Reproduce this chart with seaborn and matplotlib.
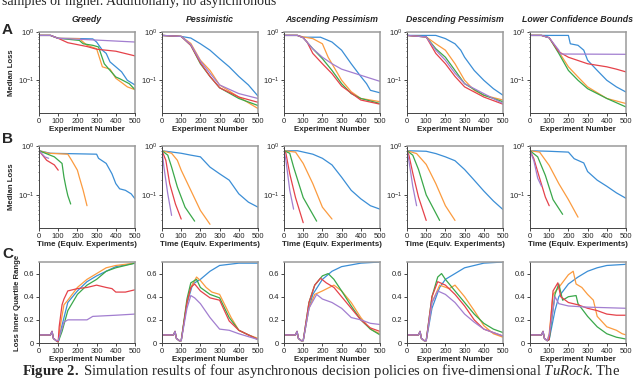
import numpy as np
import pandas as pd
import matplotlib
matplotlib.use("Agg")
import matplotlib.pyplot as plt
import seaborn as sns

# %%
# policies (columns) and series colours
policies = ["Greedy", "Pessimistic", "Ascending Pessimism",
            "Descending Pessimism", "Lower Confidence Bounds"]
series_names = ["blue", "orange", "green", "red", "purple"]
series_colors = ["#3b8ed6", "#fb9b3f", "#3aa84a", "#e5424a", "#a27ed0"]

# row A: median loss vs experiment number  -> [x, y]
a1_blue = [[0, 60, 100, 210, 280, 300, 330, 350, 370, 400, 430, 460, 500],
           [0.85, 0.85, 0.74, 0.73, 0.72, 0.62, 0.42, 0.36, 0.24, 0.19, 0.15, 0.10, 0.08]]
a1_orange = [[0, 60, 100, 210, 250, 300, 330, 370, 400, 430, 460, 500],
             [0.85, 0.85, 0.74, 0.73, 0.53, 0.45, 0.19, 0.17, 0.11, 0.09, 0.073, 0.064]]
a1_green = [[0, 60, 100, 210, 230, 280, 310, 340, 370, 400, 420, 470, 500],
            [0.85, 0.85, 0.74, 0.67, 0.57, 0.53, 0.49, 0.22, 0.16, 0.117, 0.108, 0.085, 0.064]]
a1_red = [[0, 60, 100, 150, 250, 300, 400, 500],
          [0.85, 0.85, 0.74, 0.60, 0.50, 0.44, 0.40, 0.32]]
a1_purple = [[0, 60, 100, 300, 500], [0.85, 0.85, 0.74, 0.68, 0.62]]

a2_blue = [[0, 100, 150, 200, 250, 300, 350, 400, 450, 500],
           [0.85, 0.81, 0.75, 0.57, 0.42, 0.28, 0.19, 0.12, 0.08, 0.047]]
a2_orange = [[0, 100, 150, 200, 250, 300, 400, 500],
             [0.85, 0.81, 0.58, 0.26, 0.16, 0.08, 0.045, 0.026]]
a2_green = [[0, 100, 150, 200, 250, 300, 400, 500],
            [0.85, 0.81, 0.53, 0.22, 0.12, 0.07, 0.042, 0.030]]
a2_red = [[0, 100, 150, 200, 250, 300, 400, 500],
          [0.85, 0.81, 0.53, 0.23, 0.12, 0.07, 0.045, 0.035]]
a2_purple = [[0, 100, 150, 200, 250, 300, 400, 500],
             [0.85, 0.81, 0.55, 0.25, 0.14, 0.08, 0.053, 0.042]]

a3_blue = [[0, 70, 100, 190, 250, 300, 350, 400, 430, 450, 500],
           [0.85, 0.85, 0.78, 0.78, 0.62, 0.42, 0.22, 0.12, 0.085, 0.062, 0.055]]
a3_orange = [[0, 70, 100, 150, 200, 230, 250, 300, 350, 400, 450, 500],
             [0.85, 0.85, 0.79, 0.73, 0.57, 0.30, 0.22, 0.10, 0.058, 0.042, 0.039, 0.036]]
a3_green = [[0, 70, 100, 150, 200, 250, 300, 350, 400, 500],
            [0.85, 0.85, 0.76, 0.45, 0.28, 0.16, 0.085, 0.053, 0.042, 0.033]]
a3_red = [[0, 70, 100, 120, 150, 200, 250, 300, 400, 500],
          [0.85, 0.85, 0.76, 0.62, 0.36, 0.22, 0.137, 0.076, 0.039, 0.032]]
a3_purple = [[0, 70, 100, 150, 200, 250, 300, 400, 500],
             [0.85, 0.85, 0.76, 0.45, 0.30, 0.22, 0.17, 0.127, 0.095]]

a4_blue = [[0, 150, 200, 250, 280, 300, 350, 400, 450, 500],
           [0.85, 0.85, 0.73, 0.57, 0.42, 0.30, 0.16, 0.10, 0.067, 0.049]]
a4_orange = [[0, 100, 150, 200, 250, 300, 350, 400, 500],
             [0.85, 0.79, 0.57, 0.42, 0.22, 0.10, 0.062, 0.049, 0.039]]
a4_green = [[0, 100, 150, 200, 250, 300, 400, 500],
            [0.85, 0.79, 0.45, 0.30, 0.16, 0.085, 0.049, 0.036]]
a4_red = [[0, 100, 150, 200, 250, 300, 400, 500],
          [0.85, 0.79, 0.36, 0.22, 0.12, 0.073, 0.045, 0.032]]
a4_purple = [[0, 100, 150, 200, 250, 300, 400, 500],
             [0.85, 0.79, 0.42, 0.26, 0.14, 0.085, 0.053, 0.033]]

a5_blue = [[0, 200, 210, 250, 280, 300, 350, 400, 450, 500],
           [0.85, 0.85, 0.57, 0.53, 0.42, 0.26, 0.16, 0.10, 0.073, 0.057]]
a5_orange = [[0, 60, 100, 150, 200, 250, 300, 400, 500],
             [0.85, 0.85, 0.76, 0.39, 0.19, 0.117, 0.073, 0.042, 0.033]]
a5_green = [[0, 60, 100, 150, 200, 250, 300, 400, 500],
            [0.85, 0.85, 0.76, 0.36, 0.16, 0.10, 0.067, 0.042, 0.028]]
a5_red = [[0, 60, 100, 150, 200, 300, 400, 450, 500],
          [0.85, 0.85, 0.76, 0.39, 0.30, 0.22, 0.19, 0.17, 0.149]]
a5_purple = [[0, 60, 100, 150, 160, 500], [0.85, 0.85, 0.76, 0.42, 0.35, 0.345]]

# row B: median loss vs wall time
b1_blue = [[0, 60, 300, 310, 350, 380, 400, 420, 450, 480, 500],
           [0.80, 0.71, 0.68, 0.56, 0.44, 0.27, 0.17, 0.133, 0.124, 0.105, 0.083]]
b1_orange = [[0, 50, 150, 170, 200, 210, 230, 250],
             [0.80, 0.71, 0.68, 0.51, 0.32, 0.23, 0.124, 0.06]]
b1_green = [[0, 80, 120, 130, 140, 150, 165], [0.80, 0.60, 0.44, 0.23, 0.145, 0.097, 0.065]]
b1_red = [[0, 40, 80, 100], [0.80, 0.51, 0.41, 0.32]]
b1_purple = [[0, 30, 50], [0.80, 0.60, 0.56]]

b2_blue = [[0, 100, 150, 200, 250, 300, 350, 400, 450, 500],
           [0.80, 0.71, 0.65, 0.60, 0.37, 0.27, 0.20, 0.105, 0.071, 0.056]]
b2_orange = [[0, 50, 80, 100, 150, 200, 250], [0.80, 0.71, 0.51, 0.32, 0.124, 0.048, 0.025]]
b2_green = [[0, 30, 50, 80, 120, 170], [0.80, 0.65, 0.37, 0.145, 0.056, 0.029]]
b2_red = [[0, 20, 40, 70, 100], [0.80, 0.51, 0.17, 0.065, 0.032]]
b2_purple = [[0, 10, 30, 50], [0.80, 0.37, 0.105, 0.038]]

b3_blue = [[0, 70, 150, 200, 250, 300, 350, 400, 450, 500],
           [0.80, 0.80, 0.68, 0.56, 0.41, 0.23, 0.124, 0.083, 0.060, 0.051]]
b3_orange = [[0, 60, 100, 150, 200, 250], [0.80, 0.75, 0.44, 0.17, 0.056, 0.032]]
b3_green = [[0, 30, 50, 100, 170], [0.80, 0.71, 0.37, 0.088, 0.029]]
b3_red = [[0, 10, 30, 60, 100], [0.80, 0.71, 0.27, 0.088, 0.027]]
b3_purple = [[0, 10, 30, 50], [0.80, 0.51, 0.124, 0.051]]

b4_blue = [[0, 100, 150, 200, 250, 300, 350, 400, 450, 500],
           [0.80, 0.78, 0.70, 0.60, 0.50, 0.33, 0.20, 0.12, 0.075, 0.05]]
b4_orange = [[0, 50, 100, 150, 200, 250], [0.80, 0.70, 0.42, 0.17, 0.06, 0.03]]
b4_green = [[0, 30, 60, 100, 170], [0.80, 0.65, 0.33, 0.10, 0.03]]
b4_red = [[0, 10, 30, 60, 100], [0.80, 0.65, 0.28, 0.09, 0.03]]
b4_purple = [[0, 10, 30, 50], [0.80, 0.50, 0.15, 0.06]]

b5_blue = [[0, 100, 200, 230, 280, 300, 350, 400, 450, 500],
           [0.80, 0.78, 0.75, 0.55, 0.45, 0.30, 0.20, 0.15, 0.11, 0.085]]
b5_orange = [[0, 50, 100, 150, 200, 250], [0.80, 0.75, 0.40, 0.17, 0.08, 0.035]]
b5_green = [[0, 40, 80, 120, 170], [0.80, 0.60, 0.25, 0.08, 0.04]]
b5_red = [[0, 20, 50, 80, 100], [0.80, 0.55, 0.22, 0.09, 0.06]]
b5_purple = [[0, 20, 40, 60], [0.80, 0.50, 0.22, 0.15]]

# row C: loss inner quartile range; all series share the same start
c_start_x = [0, 60, 68, 75, 90]
c_start_y = [0.07, 0.07, 0.10, 0.04, 0.02]

c1_blue = [[100, 115, 150, 200, 250, 300, 350, 400, 500],
           [0.01, 0.12, 0.35, 0.45, 0.53, 0.58, 0.62, 0.66, 0.69]]
c1_orange = [[100, 110, 130, 150, 200, 250, 300, 350, 400, 450, 500],
             [0.01, 0.14, 0.33, 0.37, 0.48, 0.55, 0.60, 0.65, 0.67, 0.68, 0.69]]
c1_green = [[100, 120, 150, 200, 250, 300, 350, 400, 500],
            [0.01, 0.10, 0.28, 0.42, 0.50, 0.55, 0.62, 0.65, 0.69]]
c1_red = [[100, 105, 120, 130, 150, 200, 250, 300, 350, 380, 400, 450, 500],
          [0.01, 0.14, 0.33, 0.38, 0.45, 0.47, 0.48, 0.50, 0.48, 0.47, 0.44, 0.44, 0.46]]
c1_purple = [[100, 130, 150, 250, 280, 400, 500], [0.02, 0.18, 0.20, 0.20, 0.23, 0.24, 0.25]]

c2_blue = [[100, 130, 160, 200, 250, 300, 400, 500],
           [0.02, 0.34, 0.51, 0.55, 0.62, 0.67, 0.69, 0.69]]
c2_orange = [[100, 130, 150, 180, 200, 230, 260, 300, 330, 360, 400, 450, 500],
             [0.02, 0.35, 0.48, 0.57, 0.54, 0.48, 0.44, 0.42, 0.32, 0.22, 0.11, 0.07, 0.04]]
c2_green = [[100, 130, 150, 180, 200, 250, 300, 350, 400, 500],
            [0.02, 0.38, 0.52, 0.55, 0.48, 0.42, 0.39, 0.22, 0.11, 0.03]]
c2_red = [[100, 130, 150, 170, 200, 250, 300, 350, 400, 500],
          [0.02, 0.35, 0.48, 0.51, 0.45, 0.39, 0.37, 0.19, 0.11, 0.03]]
c2_purple = [[100, 130, 150, 170, 200, 250, 300, 350, 400, 500],
             [0.02, 0.30, 0.41, 0.39, 0.34, 0.22, 0.12, 0.11, 0.08, 0.03]]

c3_blue = [[100, 130, 150, 200, 250, 300, 400, 500],
           [0.02, 0.30, 0.42, 0.55, 0.62, 0.66, 0.69, 0.70]]
c3_orange = [[100, 130, 160, 200, 260, 300, 350, 400, 450, 500],
             [0.02, 0.30, 0.42, 0.45, 0.50, 0.45, 0.35, 0.22, 0.12, 0.08]]
c3_green = [[100, 130, 160, 200, 230, 260, 300, 350, 400, 450, 500],
            [0.02, 0.35, 0.50, 0.58, 0.60, 0.55, 0.45, 0.32, 0.20, 0.12, 0.07]]
c3_red = [[100, 130, 160, 190, 220, 260, 300, 350, 400, 450, 500],
          [0.02, 0.35, 0.50, 0.56, 0.52, 0.48, 0.40, 0.30, 0.20, 0.13, 0.10]]
c3_purple = [[100, 130, 170, 200, 250, 300, 350, 400, 450, 500],
             [0.02, 0.30, 0.42, 0.38, 0.35, 0.30, 0.22, 0.20, 0.17, 0.16]]

c4_blue = [[100, 130, 170, 200, 250, 300, 400, 500],
           [0.02, 0.30, 0.48, 0.55, 0.60, 0.65, 0.69, 0.70]]
c4_orange = [[100, 130, 170, 220, 250, 300, 350, 400, 450, 500],
             [0.02, 0.35, 0.50, 0.47, 0.50, 0.40, 0.28, 0.15, 0.08, 0.05]]
c4_green = [[100, 130, 160, 180, 200, 250, 300, 350, 400, 450, 500],
            [0.02, 0.40, 0.57, 0.60, 0.55, 0.45, 0.35, 0.25, 0.17, 0.12, 0.09]]
c4_red = [[100, 130, 160, 200, 250, 300, 350, 400, 500],
          [0.02, 0.40, 0.53, 0.50, 0.42, 0.32, 0.20, 0.12, 0.06]]
c4_purple = [[100, 130, 160, 200, 250, 300, 350, 400, 500],
             [0.02, 0.35, 0.45, 0.42, 0.35, 0.25, 0.18, 0.12, 0.06]]

c5_blue = [[100, 130, 150, 200, 250, 300, 350, 400, 500],
           [0.03, 0.28, 0.40, 0.51, 0.57, 0.62, 0.65, 0.67, 0.68]]
c5_orange = [[100, 120, 150, 200, 225, 240, 270, 300, 330, 350, 400, 450, 480, 500],
             [0.08, 0.42, 0.48, 0.59, 0.62, 0.51, 0.48, 0.42, 0.37, 0.23, 0.14, 0.11, 0.08, 0.07]]
c5_green = [[100, 130, 150, 170, 200, 240, 250, 300, 350, 400, 450, 500],
            [0.03, 0.42, 0.51, 0.37, 0.40, 0.41, 0.34, 0.23, 0.14, 0.08, 0.05, 0.034]]
c5_red = [[100, 120, 145, 160, 200, 250, 300, 350, 400, 450, 500],
          [0.03, 0.45, 0.52, 0.40, 0.35, 0.33, 0.30, 0.28, 0.25, 0.24, 0.24]]
c5_purple = [[100, 130, 150, 200, 300, 500], [0.07, 0.40, 0.34, 0.32, 0.31, 0.30]]

# %%
panels = {
    "A": [[a1_blue, a1_orange, a1_green, a1_red, a1_purple],
          [a2_blue, a2_orange, a2_green, a2_red, a2_purple],
          [a3_blue, a3_orange, a3_green, a3_red, a3_purple],
          [a4_blue, a4_orange, a4_green, a4_red, a4_purple],
          [a5_blue, a5_orange, a5_green, a5_red, a5_purple]],
    "B": [[b1_blue, b1_orange, b1_green, b1_red, b1_purple],
          [b2_blue, b2_orange, b2_green, b2_red, b2_purple],
          [b3_blue, b3_orange, b3_green, b3_red, b3_purple],
          [b4_blue, b4_orange, b4_green, b4_red, b4_purple],
          [b5_blue, b5_orange, b5_green, b5_red, b5_purple]],
    "C": [[c1_blue, c1_orange, c1_green, c1_red, c1_purple],
          [c2_blue, c2_orange, c2_green, c2_red, c2_purple],
          [c3_blue, c3_orange, c3_green, c3_red, c3_purple],
          [c4_blue, c4_orange, c4_green, c4_red, c4_purple],
          [c5_blue, c5_orange, c5_green, c5_red, c5_purple]],
}

rows = []
for row, cols in panels.items():
    for j, series in enumerate(cols):
        for name, (xs, ys) in zip(series_names, series):
            if row == "C":
                xs = c_start_x + xs
                ys = c_start_y + ys
            for x, y in zip(xs, ys):
                rows.append((row, j, name, x, y))
data = pd.DataFrame(rows, columns=["row", "col", "series", "x", "y"])

# %%
sns.set_theme(style="ticks")
plt.rcParams["font.family"] = ["Liberation Sans", "DejaVu Sans"]
plt.rcParams["mathtext.fontset"] = "custom"
plt.rcParams["mathtext.rm"] = "Liberation Serif"
plt.rcParams["mathtext.it"] = "Liberation Serif:italic"
plt.rcParams["mathtext.bf"] = "Liberation Serif:bold"

W, H = 640, 378
fig = plt.figure(figsize=(W / 100, H / 100), dpi=100)

lefts = [39, 162, 284, 407, 530]
row_box = {"A": (32, 113), "B": (146, 228), "C": (262, 343)}
xlabels = {"A": "Experiment Number", "B": "Time (Equiv. Experiments)", "C": "Experiment Number"}
ylabels = {"A": "Median Loss", "B": "Median Loss", "C": "Loss Inner Quartile Range"}
palette = dict(zip(series_names, series_colors))

for row, (top, bot) in row_box.items():
    for j, left in enumerate(lefts):
        ax = fig.add_axes([left / W, 1 - bot / H, 96 / W, (bot - top) / H])
        sub = data[(data.row == row) & (data.col == j)]
        sns.lineplot(data=sub, x="x", y="y", hue="series", hue_order=series_names,
                     palette=palette, estimator=None, sort=False, legend=False,
                     linewidth=0.9, ax=ax)
        ax.set_xlim(0, 500)
        ax.set_xticks([0, 100, 200, 300, 400, 500])
        if row == "C":
            ax.set_ylim(0, 0.7)
            ax.set_yticks([0, 0.2, 0.4, 0.6])
            ax.set_yticklabels(["0", "0.2", "0.4", "0.6"])
        else:
            ax.set_yscale("log")
            ax.set_ylim(0.021, 1.0)
        ax.tick_params(labelsize=5.5, length=2, width=0.6, pad=1.5)
        ax.tick_params(which="minor", length=1, width=0.5)
        ax.set_xlabel(xlabels[row], fontsize=5.8, fontweight="bold", labelpad=0.5)
        if j == 0:
            ax.set_ylabel(ylabels[row], fontsize=5.6, fontweight="bold", labelpad=2)
        else:
            ax.set_ylabel("")
        for side in ["left", "bottom"]:
            ax.spines[side].set_color("#444444")
            ax.spines[side].set_linewidth(0.7)
        for side in ["top", "right"]:
            ax.spines[side].set_color("#9a9a9a")
            ax.spines[side].set_linewidth(1.1)
        if row == "A":
            fig.text((left + 48) / W, 1 - 19 / H, policies[j], fontsize=6.3,
                     fontweight="bold", fontstyle="italic", ha="center", va="center")

for row, y in [("A", 30), ("B", 139), ("C", 254)]:
    fig.text(2 / W, 1 - y / H, row, fontsize=11, fontweight="bold", ha="left", va="center")

# surrounding page text, cut by the crop
fig.text(2 / W, 1 - 5 / H, "samples or higher. Additionally, no asynchronous",
         fontsize=10, family="Liberation Serif", ha="left", va="baseline")
fig.text(22 / W, 1 - 375 / H,
         r"$\bf{Figure\ 2.}$ Simulation results of four asynchronous decision policies on five-dimensional $\it{TuRock}$. The",
         fontsize=10.5, family="Liberation Serif", ha="left", va="baseline")

plt.savefig("out.png", dpi=100)
